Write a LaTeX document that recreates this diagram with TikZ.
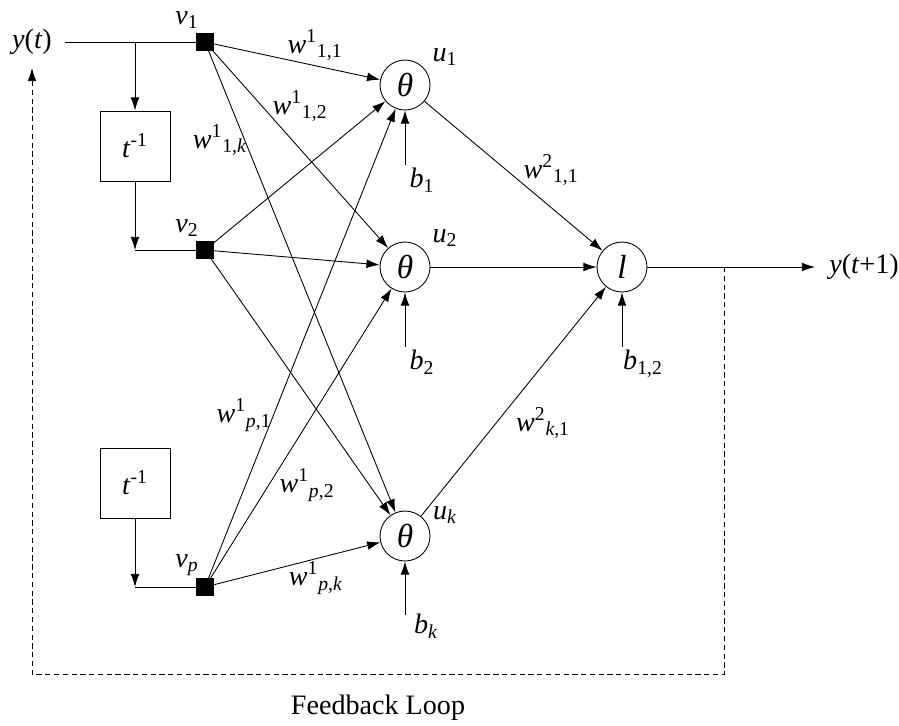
\documentclass[tikz,border=0pt]{standalone}
\usepackage{fontspec}
\setmainfont{Liberation Serif}
\usetikzlibrary{positioning, arrows.meta}

\newcommand{\wgt}[2]{\textit{w}\textsuperscript{#1}\textsubscript{#2}}

\begin{document}
\begin{tikzpicture}[x=0.02cm, y=-0.02cm, font=\fontsize{16}{19}\selectfont,
      line width=0.5pt,
      arr/.style={-{Latex[length=7.5pt,width=5pt]}},
      neuron/.style={draw, circle, minimum size=1cm, inner sep=0pt,
                     font=\fontsize{19}{22}\selectfont},
      tap/.style={draw, fill=black, minimum size=0.34cm, inner sep=0pt},
      delay/.style={draw, minimum size=1.4cm, inner sep=0pt},
      lbl/.style={inner sep=1pt}]

    \useasboundingbox (0,0) rectangle (899,725);

    % inputs and delays
    \node[lbl] (yt) at (32,42) {\textit{y}(\textit{t})};
    \node[tap] (v1) at (205,42) {};
    \node[tap] (v2) at (205,250) {};
    \node[tap] (vp) at (205,587) {};
    \node[lbl] (lv1) at (187,20) {\textit{v}\textsubscript{1}};
    \node[lbl] (lv2) at (187,228) {\textit{v}\textsubscript{2}};
    \node[lbl] (lvp) at (187,565) {\textit{v}\textsubscript{\textit{p}}};
    \node[delay] (d1) at (135,146) {\textit{t}\textsuperscript{-1}};
    \node[delay] (d2) at (135,483) {\textit{t}\textsuperscript{-1}};
    \coordinate (yin) at (65,42);
    \coordinate (s1) at (135,42);
    \coordinate (s2) at (135,250);
    \coordinate (sp) at (135,587);

    \draw (yin) -- (v1);
    \draw[arr] (s1) -- (d1);
    \draw[arr] (d1) -- (s2);
    \draw (s2) -- (v2);
    \draw[arr] (d2) -- (sp);
    \draw (sp) -- (vp);

    % hidden and output neurons
    \node[neuron] (u1) at (405,85)  {\textit{θ}};
    \node[neuron] (u2) at (405,267) {\textit{θ}};
    \node[neuron] (uk) at (405,536) {\textit{θ}};
    \node[neuron] (ol) at (622,267) {\textit{l}};
    \node[lbl] (lu1) at (445,57)  {\textit{u}\textsubscript{1}};
    \node[lbl] (lu2) at (445,238) {\textit{u}\textsubscript{2}};
    \node[lbl] (luk) at (445,515) {\textit{u}\textsubscript{\textit{k}}};

    \foreach \v in {v1,v2,vp}
      \foreach \u in {u1,u2,uk}
        \draw[arr] (\v) -- (\u);
    \foreach \u in {u1,u2,uk}
      \draw[arr] (\u) -- (ol);

    % weights
    \node[lbl] (w11) at (315,45)  {\wgt{1}{1,1}};
    \node[lbl] (w12) at (300,106) {\wgt{1}{1,2}};
    \node[lbl] (w1k) at (220,140) {\wgt{1}{1,\textit{k}}};
    \node[lbl] (wp1) at (244,415) {\wgt{1}{\textit{p},1}};
    \node[lbl] (wp2) at (307,485) {\wgt{1}{\textit{p},2}};
    \node[lbl] (wpk) at (316,578) {\wgt{1}{\textit{p},\textit{k}}};
    \node[lbl] (v11) at (551,170) {\wgt{2}{1,1}};
    \node[lbl] (vk1) at (543,423) {\wgt{2}{\textit{k},1}};

    % biases
    \coordinate (b1) at (405,165);
    \coordinate (b2) at (405,347);
    \coordinate (bk) at (405,615);
    \coordinate (bo) at (622,347);
    \draw[arr] (b1) -- (u1);
    \draw[arr] (b2) -- (u2);
    \draw[arr] (bk) -- (uk);
    \draw[arr] (bo) -- (ol);
    \node[lbl] (lb1) at (422,180) {\textit{b}\textsubscript{1}};
    \node[lbl] (lb2) at (422,362) {\textit{b}\textsubscript{2}};
    \node[lbl] (lbk) at (426,626) {\textit{b}\textsubscript{\textit{k}}};
    \node[lbl] (lbo) at (643,364) {\textit{b}\textsubscript{1,2}};

    % output and feedback
    \coordinate (out) at (815,267);
    \node[lbl] (yo) at (864,267) {\textit{y}(\textit{t}+1)};
    \draw[arr] (ol) -- (out);
    \coordinate (f0) at (724,267);
    \coordinate (f1) at (724,674);
    \coordinate (f2) at (32,674);
    \coordinate (f3) at (32,68);
    \draw[densely dashed, arr] (f0) -- (f1) -- (f2) -- (f3);
    \node (fb) at (378,708) {Feedback Loop};
\end{tikzpicture}
\end{document}
